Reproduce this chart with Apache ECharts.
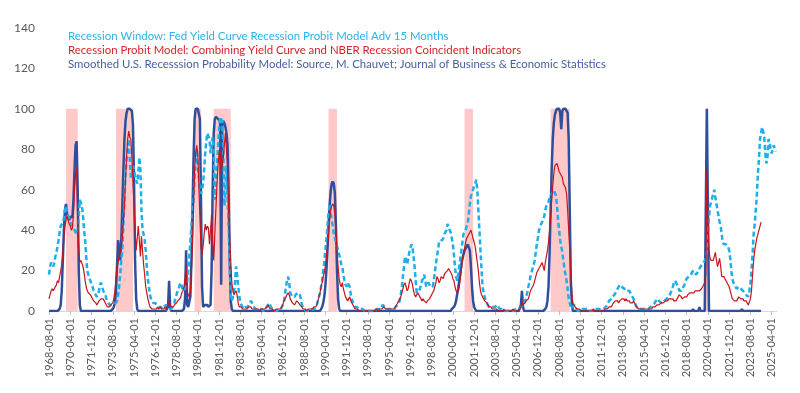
<!DOCTYPE html>
<html>
<head>
<meta charset="utf-8">
<script src="https://cdn.jsdelivr.net/npm/echarts@6/dist/echarts.min.js"></script>
<style>html,body{margin:0;padding:0;background:#fff;}#chart{width:800px;height:393px;}</style>
</head>
<body>
<div id="chart"></div>
<script>
// Monthly categories: 1968-08-01 .. 2025-09-01
const startYear = 1968, startMonth = 8, monthCount = 686;
const categories = [];
for (let k = 0; k < monthCount; k++) {
  const m = startMonth - 1 + k;
  const y = startYear + Math.floor(m / 12);
  const mm = (m % 12) + 1;
  categories.push(y + '-' + (mm < 10 ? '0' + mm : mm) + '-01');
}

const seriesNames = [
  'Recession Window: Fed Yield Curve Recession Probit Model Adv 15 Months',
  'Recession Probit Model: Combining Yield Curve and NBER Recession Coincident Indicators',
  'Smoothed U.S. Recesssion Probability Model: Source, M. Chauvet; Journal of Business & Economic Statistics'
];

// NBER recessions (shaded)
const recessionStart = ['1969-12-01','1973-11-01','1980-01-01','1981-07-01','1990-07-01','2001-03-01','2007-12-01','2020-02-01'];
const recessionEnd   = ['1970-11-01','1975-03-01','1980-07-01','1982-11-01','1991-03-01','2001-11-01','2009-06-01','2020-04-01'];

// Recession Window (Adv 15 months), 1968-08 .. 2025-08
const recessionWindow = [
18,22,24,23,22,24,27,29,32,35,
39,42,43,44,46,50,52,50,47,46,
44,43,42,41,40,39,38,40,47,55,
55,52,47,40,35,27,20,18,16,15,
13,12,10,9,8,7,8,10,13,14,
12,10,9,8,6,5,4,3,3,3,
3,3,3,4,5,8,12,18,25,30,
43,55,68,75,80,85,75,66,68,72,
70,67,65,63,68,76,70,50,40,38,
35,30,22,16,12,8,6,5,4,4,
4,3,3,2,2,2,2,1,2,2,
3,2,2,1,1,1,2,2,4,7,
8,10,11,13,14,12,10,10,11,12,
14,20,27,34,42,50,55,65,75,80,
72,66,60,58,60,63,70,78,84,88,
88,85,78,83,86,80,55,65,72,80,
90,96,96,94,80,52,60,72,55,42,
25,8,5,7,9,14,22,18,12,8,
4,3,2,1,1,2,2,2,3,4,
5,4,3,2,1,1,1,1,1,1,
1,1,0,1,1,2,3,4,3,2,
1,0,0,0,0,0,1,1,1,2,
2,4,8,12,15,17,14,9,8,7,
7,7,8,8,9,9,8,6,3,2,
1,1,0,0,0,0,0,0,1,1,
1,2,3,5,7,9,12,15,20,24,
30,35,42,48,53,50,45,42,38,36,
34,32,30,28,26,23,22,18,15,13,
12,14,14,12,8,6,4,3,2,2,
2,1,1,1,1,1,1,0,0,0,
0,0,0,0,0,0,0,0,1,1,
1,1,1,2,3,3,2,1,1,1,
1,1,1,1,1,1,2,2,3,4,
5,8,12,17,22,27,25,23,26,29,
31,33,32,27,22,15,9,9,10,11,
13,15,16,18,15,12,13,14,13,12,
12,12,15,19,23,27,30,34,35,35,
35,36,38,39,40,43,42,40,39,36,
33,28,22,17,15,18,22,26,30,34,
38,39,40,42,43,48,53,57,58,60,
62,63,65,60,50,40,30,20,12,9,
7,5,4,3,2,2,2,2,2,2,
2,3,3,2,1,1,1,1,0,0,
0,0,0,0,0,0,0,0,0,1,
1,1,1,1,2,2,3,4,5,7,
9,12,14,17,19,21,23,25,29,33,
36,40,41,43,44,45,47,50,52,53,
54,56,57,58,59,60,60,57,52,45,
40,35,32,29,25,21,18,15,11,6,
4,2,1,2,3,2,1,1,0,0,
0,0,1,1,1,1,1,1,1,0,
0,0,1,1,1,1,1,1,1,1,
1,1,1,1,2,3,4,5,5,6,
7,7,8,9,10,11,12,13,13,12,
12,11,11,11,10,10,10,9,8,8,
6,5,3,2,1,1,1,1,1,1,
1,1,1,1,1,1,2,2,3,3,
4,5,5,6,5,5,4,4,4,5,
5,6,6,7,8,9,11,12,14,15,
14,13,12,10,10,10,11,12,13,15,
16,16,17,17,18,19,20,19,19,18,
19,20,21,22,22,23,24,25,26,30,
38,46,52,54,56,58,60,56,53,50,
47,44,42,38,34,33,33,33,33,32,
30,26,20,16,14,13,12,11,11,12,
12,11,11,10,10,9,8,8,7,10,
14,20,28,38,43,50,57,68,75,85,
88,91,89,86,78,73,76,85,84,80,
78,80,82,80,79
];

// Probit model combining yield curve and NBER coincident indicators, 1968-08 .. 2024-06
const probitCombined = [
6,8,10,11,10,11,11,13,15,14,
17,20,23,28,36,42,45,47,45,43,
42,40,41,48,60,68,71,45,30,24,
25,25,22,19,15,12,10,9,9,8,
7,6,5,5,4,3,4,5,5,6,
6,6,5,4,3,2,2,2,3,3,
4,6,10,16,22,24,27,29,32,36,
44,52,65,76,85,89,86,85,76,64,
52,40,30,36,42,35,27,37,30,23,
18,12,9,6,4,2,2,1,1,1,
1,1,2,1,1,2,1,1,1,2,
1,2,3,5,3,2,2,2,3,3,
4,5,5,6,7,9,10,12,16,22,
10,8,7,10,20,32,50,70,78,82,
78,62,46,32,28,32,38,43,40,42,
41,33,40,48,35,25,38,50,62,72,
78,80,68,73,76,82,88,80,71,52,
36,25,14,10,8,9,10,8,4,2,
2,2,1,1,1,1,1,1,2,2,
2,1,1,1,1,1,1,1,0,1,
1,1,1,1,1,2,3,2,1,1,
1,1,0,0,1,1,1,1,1,2,
3,5,6,7,8,9,8,6,5,4,
4,3,4,5,5,4,3,3,2,1,
1,1,0,0,1,1,1,1,1,2,
2,2,3,5,7,9,12,14,17,19,
22,27,32,38,45,50,52,53,52,47,
40,30,22,16,13,12,14,11,9,7,
6,5,6,7,5,4,3,2,1,1,
1,1,0,0,0,0,0,0,0,0,
0,0,0,0,0,0,0,0,1,1,
0,1,1,1,1,2,2,1,1,1,
1,1,1,1,1,1,2,3,4,5,
6,7,9,11,13,14,12,10,11,14,
16,15,13,10,8,7,8,9,8,7,
6,5,6,5,5,4,5,5,6,7,
8,9,10,12,14,17,16,14,15,17,
17,16,18,19,19,20,21,20,19,18,
16,15,12,10,9,10,12,16,20,25,
28,31,34,36,37,38,39,40,38,36,
34,32,28,24,20,14,10,8,7,6,
5,5,4,3,2,2,2,1,1,1,
1,1,1,0,0,0,0,0,1,0,
0,0,0,0,0,0,0,1,0,0,
0,0,0,1,2,5,3,3,4,5,
5,6,8,10,11,12,13,15,17,19,
20,21,22,23,24,22,20,24,27,30,
34,40,47,55,62,68,72,72,73,71,
69,68,67,66,63,62,61,58,50,40,
30,18,8,4,3,2,2,1,1,1,
1,0,0,0,0,0,0,0,0,0,
0,0,1,1,0,0,0,0,0,0,
0,0,0,1,1,1,1,2,2,2,
3,4,4,5,5,5,4,5,5,6,
6,6,5,6,5,5,5,4,4,4,
5,4,3,2,2,1,1,1,1,1,
1,1,1,1,1,1,1,1,2,2,
2,2,3,3,3,3,4,4,4,4,
5,5,5,6,6,6,6,6,5,5,
5,6,7,8,8,7,6,6,7,7,
7,8,8,9,9,9,9,9,10,10,
10,10,10,10,11,12,13,14,18,70,
45,30,26,25,25,25,27,29,25,22,
24,26,22,17,17,17,16,15,14,13,
12,10,8,6,6,5,5,5,6,7,
7,6,6,6,5,5,5,4,3,3,
6,10,18,25,30,33,36,38,40,42,
44
];

// Smoothed U.S. recession probability (Chauvet), 1968-08 .. 2024-06
const chauvetProb = [
0,0,0,0,0,0,0,0,0,0,
1,3,10,25,40,50,53,48,46,45,
46,47,46,55,70,82,84,60,20,3,
0,0,0,0,0,0,0,0,0,0,
0,0,0,0,0,0,0,0,0,0,
0,0,0,0,0,0,0,0,0,0,
1,2,4,10,22,35,30,25,35,52,
70,85,94,98,100,100,100,100,99,92,
65,25,6,1,0,0,0,0,0,0,
0,0,0,0,0,0,0,0,0,0,
0,0,0,0,0,0,0,0,0,0,
0,0,2,15,2,0,0,0,0,0,
0,0,0,0,0,0,0,1,6,30,
3,2,2,7,25,50,75,95,100,100,
100,100,95,55,12,2,2,3,3,3,
2,2,3,20,60,88,95,96,96,95,
95,94,13,93,94,93,91,88,82,60,
25,5,1,0,0,0,0,0,0,0,
0,0,0,0,0,0,0,0,0,0,
0,0,0,0,0,0,0,0,0,0,
0,0,0,0,0,0,0,0,0,0,
0,0,0,0,0,0,0,0,0,0,
0,0,0,0,0,0,0,0,0,0,
0,0,0,0,0,0,0,0,0,0,
0,0,0,0,0,0,0,0,0,0,
0,0,0,0,0,0,1,2,4,7,
12,20,30,42,52,59,63,64,63,58,
42,20,6,1,0,0,0,0,0,0,
0,0,0,0,0,0,0,0,0,0,
0,0,0,0,0,0,0,0,0,0,
0,0,0,0,0,0,0,0,0,0,
0,0,0,0,0,0,0,0,0,0,
0,0,0,0,0,0,0,0,0,0,
0,0,0,0,0,0,0,0,0,0,
0,0,0,0,0,0,0,0,0,0,
0,0,0,0,0,0,0,0,0,0,
0,0,0,0,0,0,0,0,0,0,
0,0,0,0,0,0,0,0,0,1,
1,2,3,5,8,11,15,19,23,26,
28,30,31,32,33,33,30,22,12,5,
2,1,0,0,0,0,0,0,0,0,
0,0,0,0,0,0,0,0,0,0,
0,0,0,0,0,0,0,0,0,0,
0,0,0,0,0,0,0,0,0,0,
0,0,0,0,3,10,2,0,0,0,
0,0,0,0,0,0,0,0,0,0,
0,0,0,0,0,0,0,1,2,5,
12,28,50,70,85,93,97,99,100,100,
100,98,90,99,100,100,100,100,98,85,
50,15,3,0,0,0,0,0,0,0,
0,0,0,0,0,0,0,0,0,0,
0,0,0,0,0,0,0,0,0,0,
0,0,0,0,0,0,0,0,0,0,
0,0,0,0,0,0,0,0,0,0,
0,0,0,0,0,0,0,0,0,0,
0,0,0,0,0,0,0,0,0,0,
0,0,0,0,0,0,0,0,0,0,
0,0,0,0,0,0,0,0,0,0,
0,0,0,0,0,0,0,0,0,0,
0,0,0,0,0,0,0,0,0,0,
0,0,0,0,0,0,1,0,0,0,
0,0,2,0,0,0,0,0,0,100,
100,0,0,0,0,0,0,0,0,0,
0,0,0,0,0,0,0,0,0,0,
0,0,0,0,0,0,0,0,0,0,
0,0,1,0,0,0,0,0,0,0,
0,0,0,0,0,0,0,0,0,0,
0
];

const yTicks = { min: 0, max: 140, interval: 20 };
const FONT = 'Lato';
const colWindow = '#1DAEEC', colProbit = '#C8141C', colChauvet = '#2F4E9B';

const chart = echarts.init(document.getElementById('chart'), null, { renderer: 'canvas' });
chart.setOption({
  animation: false,
  backgroundColor: '#ffffff',
  grid: { left: 49, right: 23, top: 28, bottom: 82, containLabel: false },
  legend: {
    orient: 'vertical', left: 58, top: 24, itemWidth: 0, itemHeight: 0, itemGap: 0,
    icon: 'rect', selectedMode: false,
    itemStyle: { opacity: 0 }, lineStyle: { opacity: 0 },
    textStyle: { fontFamily: FONT, fontSize: 11.4, lineHeight: 14 },
    data: [
      { name: seriesNames[0], textStyle: { color: '#2BB2EE' } },
      { name: seriesNames[1], textStyle: { color: '#D4242B' } },
      { name: seriesNames[2], textStyle: { color: '#4660A6' } }
    ]
  },
  xAxis: {
    type: 'category', data: categories, boundaryGap: false,
    axisLine: { lineStyle: { color: '#D9D9D9', width: 1 } },
    axisTick: { show: true, interval: 19, length: 4, lineStyle: { color: '#BFBFBF' } },
    axisLabel: { interval: 19, rotate: 90, fontFamily: FONT, fontSize: 11, color: '#595959', margin: 7 },
    splitLine: { show: false }
  },
  yAxis: {
    type: 'value', min: yTicks.min, max: yTicks.max, interval: yTicks.interval,
    axisLine: { show: false }, axisTick: { show: false }, splitLine: { show: false },
    axisLabel: { fontFamily: FONT, fontSize: 12, color: '#595959', margin: 14 }
  },
  series: [
    {
      name: 'NBER Recessions', type: 'line', data: [], z: 1, silent: true,
      markArea: {
        silent: true,
        itemStyle: { color: '#FFC9C9', opacity: 1 },
        data: recessionStart.map((s, k) => [{ xAxis: s, yAxis: 0 }, { xAxis: recessionEnd[k], yAxis: 100 }])
      }
    },
    {
      name: seriesNames[2], type: 'line', data: chauvetProb, z: 2,
      showSymbol: false, symbol: 'none',
      lineStyle: { color: colChauvet, width: 2.5 }, itemStyle: { color: colChauvet }
    },
    {
      name: seriesNames[0], type: 'line', data: recessionWindow, z: 3,
      showSymbol: false, symbol: 'none',
      lineStyle: { color: colWindow, width: 2.5, type: [5, 3] }, itemStyle: { color: colWindow }
    },
    {
      name: seriesNames[1], type: 'line', data: probitCombined, z: 4,
      showSymbol: false, symbol: 'none',
      lineStyle: { color: colProbit, width: 1.2 }, itemStyle: { color: colProbit }
    }
  ]
});
</script>
</body>
</html>
